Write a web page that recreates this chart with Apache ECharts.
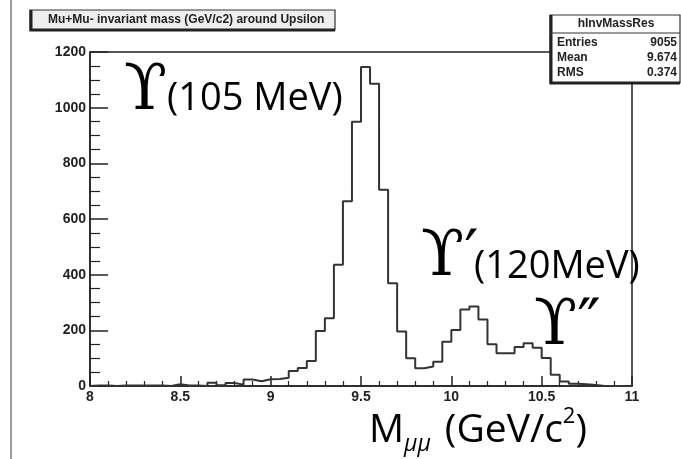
<!DOCTYPE html>
<html><head><meta charset="utf-8">
<script src="https://cdn.jsdelivr.net/npm/echarts@6/dist/echarts.min.js"></script>
<style>html,body{margin:0;padding:0;background:#fff}#c{width:681px;height:459px}</style>
</head><body><div id="c"></div>
<script>
// Histogram bins (lower edges, GeV/c^2) and counts
const binLowEdges = [
  8.00, 8.05, 8.10, 8.15, 8.20, 8.25, 8.30, 8.35, 8.40, 8.45,
  8.50, 8.55, 8.60, 8.65, 8.70, 8.75, 8.80, 8.85, 8.90, 8.95,
  9.00, 9.05, 9.10, 9.15, 9.20, 9.25, 9.30, 9.35, 9.40, 9.45,
  9.50, 9.55, 9.60, 9.65, 9.70, 9.75, 9.80, 9.85, 9.90, 9.95,
  10.00, 10.05, 10.10, 10.15, 10.20, 10.25, 10.30, 10.35, 10.40, 10.45,
  10.50, 10.55, 10.60, 10.65, 10.70, 10.75, 10.80, 10.85, 10.90, 10.95
];
const binWidth = 0.05;
const counts = [
  2, 2, 0, 2, 2, 2, 2, 2, 0, 6,
  2, 2, 0, 12, 3, 11, 5, 23, 17, 24,
  25, 30, 54, 65, 90, 198, 243, 436, 664, 949,
  1146, 1086, 705, 369, 196, 100, 64, 70, 87, 159,
  201, 275, 286, 239, 150, 118, 118, 140, 154, 137,
  101, 40, 16, 8, 6, 4, 0, 0, 0, 0
];
const xRange = [8, 11];
const yRange = [0, 1200];
const titleText = 'Mu+Mu- invariant mass (GeV/c2) around Upsilon';
const statsName = 'hInvMassRes';
const statsLabels = ['Entries', 'Mean', 'RMS'];
const statsValues = ['9055', '9.674', '0.374'];

// histogram outline points (left edge of each bin, then closing edge)
const pts = [[binLowEdges[0], 0]];
for (let i = 0; i < counts.length; i++) pts.push([binLowEdges[i], counts[i]]);
const lastEdge = binLowEdges[binLowEdges.length - 1] + binWidth;
pts.push([lastEdge, counts[counts.length - 1]]);
pts.push([lastEdge, 0]);

const chart = echarts.init(document.getElementById('c'), null, {renderer: 'canvas'});
const labelFont = {fontFamily: 'Liberation Sans, Arial, sans-serif', fontWeight: 'bold', fontSize: 14, color: '#222'};
const serif = '"DejaVu Serif", "Liberation Serif", serif';
const casual = '"Open Sans", "DejaVu Sans", sans-serif';

const statsEls = [];
statsEls.push({type: 'rect', shape: {x: 550, y: 15, width: 130, height: 68}, style: {fill: '#fff', stroke: '#333', lineWidth: 1.2}, z: 100});
statsEls.push({type: 'polyline', shape: {points: [[551, 15], [551, 83], [680, 83]]}, style: {stroke: '#222', lineWidth: 3, fill: null}, z: 101});
statsEls.push({type: 'line', shape: {x1: 550, y1: 33, x2: 680, y2: 33}, style: {stroke: '#333', lineWidth: 1}, z: 101});
statsEls.push({type: 'text', x: 616, y: 24, style: {text: statsName, font: 'bold 12px "Liberation Sans", Arial, sans-serif', fill: '#222', textAlign: 'center', textVerticalAlign: 'middle'}, z: 102});
for (let i = 0; i < statsLabels.length; i++) {
  const yy = 43 + i * 15;
  statsEls.push({type: 'text', x: 557, y: yy, style: {text: statsLabels[i], font: 'bold 12px "Liberation Sans", Arial, sans-serif', fill: '#222', textAlign: 'left', textVerticalAlign: 'middle'}, z: 102});
  statsEls.push({type: 'text', x: 677, y: yy, style: {text: statsValues[i], font: 'bold 12px "Liberation Sans", Arial, sans-serif', fill: '#222', textAlign: 'right', textVerticalAlign: 'middle'}, z: 102});
}

const option = {
  animation: false,
  backgroundColor: '#fff',
  grid: {left: 90, top: 52, width: 542, height: 334, show: true, borderColor: '#222', borderWidth: 1.5, backgroundColor: 'transparent'},
  xAxis: {
    type: 'value', min: xRange[0], max: xRange[1], interval: 0.5,
    axisLine: {show: true, lineStyle: {color: '#222', width: 1.5}},
    axisTick: {show: true, inside: true, length: 10, lineStyle: {color: '#222', width: 1.5}},
    minorTick: {show: true, splitNumber: 5, length: 5, lineStyle: {color: '#222', width: 1.2}},
    axisLabel: Object.assign({margin: 4, formatter: v => String(v)}, labelFont),
    splitLine: {show: false}, minorSplitLine: {show: false}
  },
  yAxis: {
    type: 'value', min: yRange[0], max: yRange[1], interval: 200,
    axisLine: {show: true, lineStyle: {color: '#222', width: 1.5}},
    axisTick: {show: true, inside: true, length: 18, lineStyle: {color: '#222', width: 1.5}},
    minorTick: {show: true, splitNumber: 4, length: 10, lineStyle: {color: '#222', width: 1.2}},
    axisLabel: Object.assign({margin: 4, formatter: v => String(v)}, labelFont),
    splitLine: {show: false}, minorSplitLine: {show: false}
  },
  series: [{
    type: 'line', step: 'end', data: pts, symbol: 'none',
    lineStyle: {color: '#333', width: 2}, silent: true
  }],
  graphic: [
    {type: 'line', shape: {x1: 11, y1: 0, x2: 11, y2: 459}, style: {stroke: '#999', lineWidth: 2}},
    {type: 'rect', shape: {x: 30, y: 10, width: 305, height: 20}, style: {fill: '#eeeeee', stroke: '#333', lineWidth: 1.2}, z: 100},
    {type: 'polyline', shape: {points: [[31, 10], [31, 30], [335, 30]]}, style: {stroke: '#222', lineWidth: 3, fill: null}, z: 101},
    {type: 'text', x: 48, y: 20, style: {text: titleText, font: 'bold 12px "Liberation Sans", Arial, sans-serif', fill: '#222', textAlign: 'left', textVerticalAlign: 'middle'}, z: 102},
    ...statsEls,
    // annotations
    {type: 'text', x: 124, y: 93, style: {text: 'ϒ', font: '63px ' + serif, fill: '#000', textAlign: 'left', textVerticalAlign: 'middle'}, z: 50},
    {type: 'text', x: 167, y: 99, style: {text: '(105 MeV)', font: '38px ' + casual, fill: '#000', textAlign: 'left', textVerticalAlign: 'middle'}, z: 50},
    {type: 'text', x: 421, y: 259, style: {text: 'ϒ′', font: '63px ' + serif, fill: '#000', textAlign: 'left', textVerticalAlign: 'middle'}, z: 50},
    {type: 'text', x: 474, y: 267, style: {text: '(120MeV)', font: '38px ' + casual, fill: '#000', textAlign: 'left', textVerticalAlign: 'middle'}, z: 50},
    {type: 'text', x: 534, y: 328, style: {text: 'ϒ″', font: '63px ' + serif, fill: '#000', textAlign: 'left', textVerticalAlign: 'middle'}, z: 50},
    {type: 'text', x: 369, y: 431, style: {
      text: '{m|M}{s|μμ}{g| }{m|(GeV/c}{p|2}{m|)}',
      textAlign: 'left', textVerticalAlign: 'middle',
      rich: {
        m: {fontFamily: casual, fontSize: 39, lineHeight: 50, verticalAlign: 'middle', fill: '#000', color: '#000'},
        g: {fontFamily: casual, fontSize: 39, lineHeight: 50, verticalAlign: 'middle', width: 14},
        s: {fontFamily: casual, fontSize: 23, fontStyle: 'italic', lineHeight: 18, verticalAlign: 'bottom', fill: '#000', color: '#000'},
        p: {fontFamily: casual, fontSize: 22, lineHeight: 38, verticalAlign: 'top', fill: '#000', color: '#000'}
      }
    }, z: 50}
  ]
};
chart.setOption(option);
</script>
</body></html>
